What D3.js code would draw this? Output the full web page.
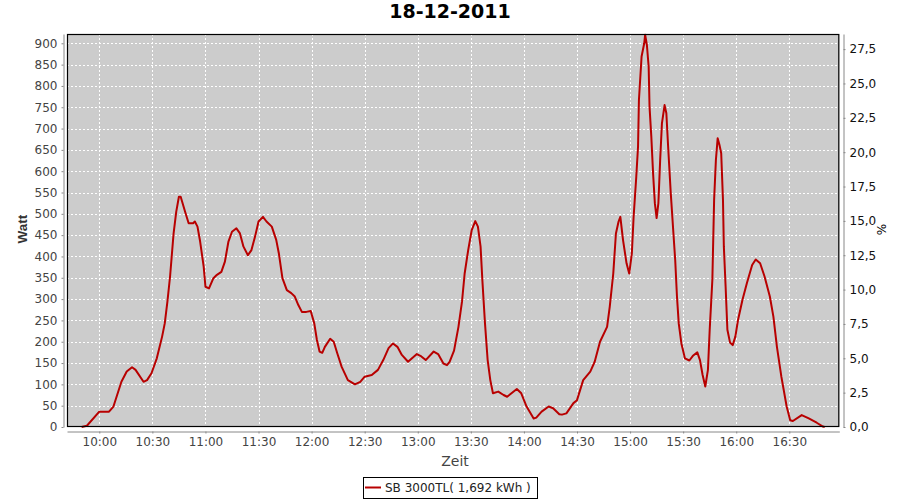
<!DOCTYPE html>
<html>
<head>
<meta charset="utf-8">
<script src="https://cdn.jsdelivr.net/npm/d3@7"></script>
<style>
  html, body { margin: 0; padding: 0; background: #ffffff; }
  svg { display: block; }
</style>
</head>
<body>
<svg id="chart" width="900" height="500"></svg>
<script>
// ---- Data ----
const chartTitle = "18-12-2011";
const seriesName = "SB 3000TL( 1,692 kWh )";
const yLabelLeft = "Watt";
const yLabelRight = "%";
const xLabel = "Zeit";

const times = [
  "09:50:00","09:53:00","10:00:00","10:05:30","10:08:00","10:12:30","10:15:30","10:18:30","10:20:30","10:25:00",
  "10:27:00","10:29:30","10:32:30","10:35:30","10:37:00","10:38:30","10:40:00","10:42:00","10:43:30","10:45:00",
  "10:46:00","10:48:30","10:50:30","10:53:00","10:54:00","10:55:30","10:57:00","10:59:00","11:00:00","11:02:00",
  "11:04:30","11:06:30","11:09:00","11:11:00","11:13:00","11:15:00","11:17:30","11:19:30","11:21:30","11:24:00",
  "11:26:00","11:28:00","11:30:00","11:32:30","11:34:30","11:37:30","11:40:00","11:41:30","11:43:30","11:46:00",
  "11:48:30","11:50:30","11:52:30","11:54:30","11:57:00","11:59:30","12:01:30","12:03:00","12:04:30","12:06:00",
  "12:07:30","12:10:30","12:12:30","12:14:30","12:17:00","12:20:30","12:24:30","12:27:30","12:30:00","12:34:00",
  "12:37:30","12:40:30","12:43:30","12:46:00","12:48:30","12:51:00","12:54:30","12:59:30","13:01:30","13:04:30",
  "13:09:00","13:11:30","13:14:30","13:16:30","13:18:00","13:20:30","13:23:00","13:25:00","13:26:30","13:28:30",
  "13:30:30","13:32:30","13:34:00","13:35:30","13:36:30","13:38:00","13:39:30","13:41:00","13:42:30","13:45:30",
  "13:48:30","13:50:30","13:56:00","13:58:30","14:01:30","14:05:30","14:07:00","14:10:00","14:14:00","14:16:30",
  "14:20:00","14:21:30","14:24:00","14:28:00","14:30:00","14:33:30","14:37:30","14:40:00","14:43:00","14:47:00",
  "14:48:30","14:50:30","14:52:00","14:53:30","14:54:30","14:56:00","14:58:00","14:59:30","15:01:00","15:02:00",
  "15:03:30","15:04:30","15:05:00","15:06:30","15:08:00","15:08:30","15:09:30","15:10:30","15:11:00","15:12:00",
  "15:13:00","15:14:00","15:15:00","15:16:00","15:17:00","15:18:00","15:19:30","15:20:30","15:21:30","15:23:00",
  "15:24:30","15:25:30","15:26:30","15:27:30","15:29:00","15:31:00","15:33:30","15:35:30","15:38:00","15:39:30",
  "15:41:00","15:42:30","15:44:00","15:45:00","15:46:30","15:47:30","15:48:30","15:49:30","15:50:30","15:51:30",
  "15:52:30","15:53:00","15:54:00","15:55:00","15:56:30","15:58:00","15:59:30","16:01:00","16:03:30","16:06:00",
  "16:09:00","16:11:00","16:13:30","16:16:00","16:19:00","16:21:00","16:23:00","16:25:30","16:28:30","16:30:30",
  "16:32:00","16:37:00","16:41:00","16:45:30","16:49:00","16:50:00"
];
const watts = [
  0,3,36,36,48,106,130,140,134,106,
  110,126,161,212,243,294,353,454,505,540,
  540,505,478,478,482,470,435,376,329,325,
  349,357,364,388,435,458,466,454,423,403,
  415,446,482,493,482,470,439,407,349,321,
  314,306,286,270,270,272,243,204,177,174,
  188,207,200,173,141,110,100,106,118,122,
  134,157,185,196,188,169,153,171,167,157,
  177,171,149,145,153,179,235,294,360,415,
  462,483,470,423,345,243,157,110,79,83,
  75,71,89,79,48,20,22,36,48,44,
  30,29,32,56,63,110,130,153,200,235,
  282,360,454,482,493,439,384,360,407,493,
  587,658,767,869,900,920,896,845,751,681,
  595,525,490,525,626,712,755,736,658,548,
  454,392,306,243,196,161,156,167,175,157,
  122,95,134,228,345,533,626,677,662,642,
  533,423,329,228,198,192,212,251,298,337,
  380,393,384,353,306,259,188,118,48,16,
  14,28,20,10,1,0
];

const xDomainTimes = ["09:41:45", "16:58:15"];
const xTickLabels = ["10:00","10:30","11:00","11:30","12:00","12:30","13:00","13:30","14:00","14:30","15:00","15:30","16:00","16:30"];
const leftTicks = [0,50,100,150,200,250,300,350,400,450,500,550,600,650,700,750,800,850,900];
const rightTicks = [0,2.5,5,7.5,10,12.5,15,17.5,20,22.5,25,27.5];
const leftMax = 921.8;
const rightMax = 28.6;

// ---- Layout ----
const svg = d3.select("#chart");
const plot = { left: 67, top: 34, right: 839.3, bottom: 427 };
const lineColor = "#b80000";
const sansFont = "'DejaVu Sans', Verdana, sans-serif";

const parseT = d3.timeParse("%H:%M:%S");
const parseHM = d3.timeParse("%H:%M");
const data = times.map((t, i) => ({ t: parseT(t), v: watts[i] }));

const x = d3.scaleTime()
  .domain(xDomainTimes.map(parseT))
  .range([plot.left, plot.right]);
const y = d3.scaleLinear().domain([0, leftMax]).range([plot.bottom, plot.top]);
const yR = d3.scaleLinear().domain([0, rightMax]).range([plot.bottom, plot.top]);

const xTickDates = xTickLabels.map(parseHM);

// plot background
svg.append("rect")
  .attr("x", plot.left).attr("y", plot.top)
  .attr("width", plot.right - plot.left).attr("height", plot.bottom - plot.top)
  .attr("fill", "#cccccc");

// grid lines
const grid = svg.append("g").attr("stroke", "#ffffff").attr("stroke-width", 1)
  .attr("stroke-dasharray", "2,2").attr("shape-rendering", "crispEdges");
grid.selectAll("line.h").data(leftTicks).join("line")
  .attr("class", "h")
  .attr("x1", plot.left).attr("x2", plot.right)
  .attr("y1", d => Math.round(y(d)) + 0.5).attr("y2", d => Math.round(y(d)) + 0.5);
grid.selectAll("line.v").data(xTickDates).join("line")
  .attr("class", "v")
  .attr("y1", plot.top).attr("y2", plot.bottom)
  .attr("x1", d => Math.round(x(d)) + 0.5).attr("x2", d => Math.round(x(d)) + 0.5);

// series line
const line = d3.line().x(d => x(d.t)).y(d => y(d.v));
svg.append("path")
  .datum(data)
  .attr("d", line)
  .attr("fill", "none")
  .attr("stroke", lineColor)
  .attr("stroke-width", 2)
  .attr("stroke-linejoin", "round");

// plot outline
svg.append("rect")
  .attr("x", plot.left + 0.5).attr("y", plot.top + 0.5)
  .attr("width", plot.right - plot.left - 1).attr("height", plot.bottom - plot.top - 1)
  .attr("fill", "none").attr("stroke", "#000000").attr("stroke-width", 1.2);

// axes
function styleAxis(g, textColor) {
  g.select(".domain").attr("stroke", "#888888");
  g.selectAll(".tick line").attr("stroke", "#888888");
  g.selectAll(".tick text").attr("fill", textColor)
    .style("font-family", sansFont).style("font-size", "12px");
}

const leftAxis = svg.append("g")
  .attr("transform", "translate(63.5,0)")
  .call(d3.axisLeft(y).tickValues(leftTicks).tickSize(2).tickSizeOuter(0).tickPadding(4)
    .tickFormat(d3.format("d")));
styleAxis(leftAxis, "#444444");

const bottomAxis = svg.append("g")
  .attr("transform", "translate(0,431.5)")
  .call(d3.axisBottom(x).tickValues(xTickDates).tickSize(2).tickSizeOuter(0).tickPadding(4)
    .tickFormat(d3.timeFormat("%H:%M")));
styleAxis(bottomAxis, "#444444");

const rightAxis = svg.append("g")
  .attr("transform", "translate(843.5,0)")
  .call(d3.axisRight(yR).tickValues(rightTicks).tickSize(2).tickSizeOuter(0).tickPadding(4)
    .tickFormat(d => d3.format(".1f")(d).replace(".", ",")));
styleAxis(rightAxis, "#111111");

// title
svg.append("text")
  .attr("x", 450).attr("y", 17.5)
  .attr("text-anchor", "middle")
  .style("font-family", sansFont).style("font-size", "19px").style("font-weight", "bold")
  .attr("fill", "#000000")
  .text(chartTitle);

// axis labels
svg.append("text")
  .attr("transform", "translate(27,229) rotate(-90)")
  .attr("text-anchor", "middle")
  .style("font-family", "'Liberation Sans', Arial, sans-serif").style("font-size", "13.5px").style("font-weight", "bold")
  .attr("fill", "#333333")
  .text(yLabelLeft);

svg.append("text")
  .attr("x", 455).attr("y", 465.5)
  .attr("text-anchor", "middle")
  .style("font-family", sansFont).style("font-size", "14px")
  .attr("fill", "#444444")
  .text(xLabel);

svg.append("text")
  .attr("transform", "translate(885.5,229.5) rotate(-90)")
  .attr("text-anchor", "middle")
  .style("font-family", sansFont).style("font-size", "12px")
  .attr("fill", "#000000")
  .text(yLabelRight);

// legend
const legend = svg.append("g");
legend.append("rect")
  .attr("x", 363.5).attr("y", 477.5).attr("width", 174).attr("height", 21)
  .attr("fill", "#ffffff").attr("stroke", "#000000").attr("stroke-width", 1);
legend.append("line")
  .attr("x1", 365).attr("x2", 381).attr("y1", 487.5).attr("y2", 487.5)
  .attr("stroke", lineColor).attr("stroke-width", 2);
legend.append("text")
  .attr("x", 385).attr("y", 491.8)
  .style("font-family", sansFont).style("font-size", "12px")
  .attr("fill", "#222222")
  .text(seriesName);
</script>
</body>
</html>
